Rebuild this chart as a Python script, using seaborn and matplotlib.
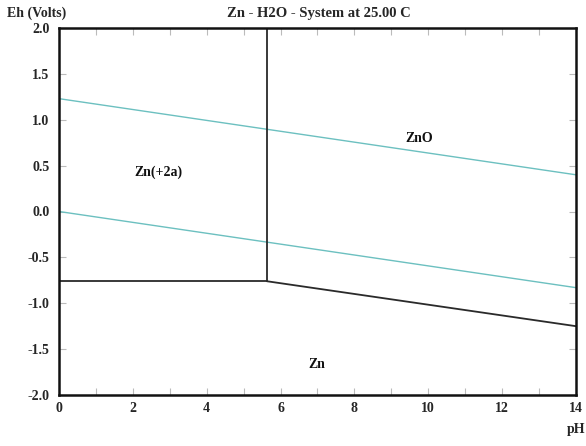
import matplotlib
matplotlib.use("Agg")
import matplotlib.pyplot as plt
import seaborn as sns
from matplotlib.ticker import MultipleLocator, FormatStrFormatter

sns.set_theme(style="white")
plt.rcParams['font.family'] = ['Liberation Serif', 'DejaVu Serif']
plt.rcParams['font.weight'] = 'bold'

# Water stability limits (O2/H2O and H2O/H2)
water_ph = [0.0, 14.0]
water_o2 = [1.23, 0.40]
water_h2 = [0.0, -0.83]

# Zn phase boundaries
zn_vert_ph = [5.63, 5.63]
zn_vert_eh = [-0.76, 2.0]
zn_horiz_ph = [0.0, 5.63]
zn_horiz_eh = [-0.76, -0.76]
zn_slope_ph = [5.63, 14.0]
zn_slope_eh = [-0.76, -1.25]

# Region labels
region_names = ["Zn(+2a)", "ZnO", "Zn"]
region_ph = [2.7, 9.75, 6.98]
region_eh = [0.43, 0.8, -1.67]

FS = 10

fig = plt.figure(figsize=(5.86, 4.46), dpi=100)
ax = fig.add_axes([59 / 586, 1 - 395 / 446, 517 / 586, 367 / 446])

teal = "#6cc0c0"
sns.lineplot(x=water_ph, y=water_o2, ax=ax, color=teal, lw=1.0, estimator=None, sort=False)
sns.lineplot(x=water_ph, y=water_h2, ax=ax, color=teal, lw=1.0, estimator=None, sort=False)

dark = "#2a2a2a"
for px, ey in [(zn_vert_ph, zn_vert_eh), (zn_horiz_ph, zn_horiz_eh), (zn_slope_ph, zn_slope_eh)]:
    sns.lineplot(x=px, y=ey, ax=ax, color=dark, lw=1.3, estimator=None, sort=False)

for name, px, ey in zip(region_names, region_ph, region_eh):
    ax.text(px, ey, name, ha="center", va="center", fontsize=FS, fontweight="bold", color="#111111")

ax.set_xlim(0, 14)
ax.set_ylim(-2, 2)
ax.xaxis.set_major_locator(MultipleLocator(2))
ax.xaxis.set_minor_locator(MultipleLocator(1))
ax.yaxis.set_major_locator(MultipleLocator(0.5))
ax.yaxis.set_major_formatter(FormatStrFormatter("%.1f"))
ax.xaxis.set_major_formatter(FormatStrFormatter("%d"))

ax.tick_params(axis="both", which="both", direction="in", top=True, right=True,
               bottom=True, left=True, color="#bbbbbb", labelsize=FS)
ax.tick_params(axis="x", which="both", length=5, width=0.8, pad=5)
ax.tick_params(axis="y", which="major", length=5, width=0.8, pad=7)
for lbl in ax.get_xticklabels() + ax.get_yticklabels():
    lbl.set_fontweight("bold")

for s in ax.spines.values():
    s.set_color("#111111")
    s.set_linewidth(1.8)

ax.set_xlabel("")
ax.set_ylabel("")
fig.text(7 / 586, 1 - 13 / 446, "Eh (Volts)", ha="left", va="center", fontsize=FS, fontweight="bold")
fig.text(319 / 586, 1 - 13 / 446, "Zn - H2O - System at 25.00 C", ha="center", va="center",
         fontsize=FS + 0.5, fontweight="bold")
fig.text(576 / 586, 1 - 430 / 446, "pH", ha="center", va="center", fontsize=FS, fontweight="bold")

fig.savefig("out.png", dpi=100, facecolor="white")
